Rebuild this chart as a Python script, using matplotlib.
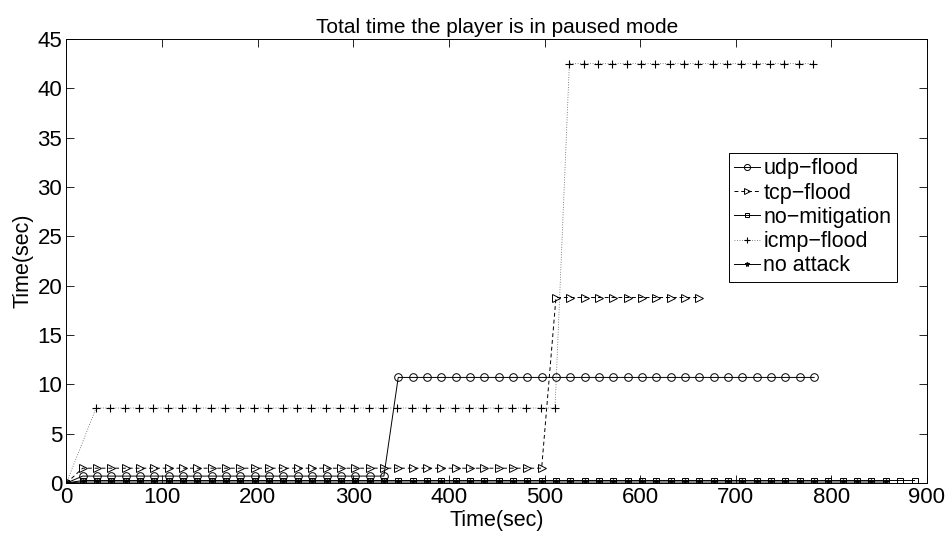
import matplotlib
matplotlib.use("Agg")
import matplotlib.pyplot as plt

plt.rcParams['font.family'] = ['Liberation Sans', 'DejaVu Sans']

# sampling times (sec)
sample_t = [0, 17, 32, 47, 62, 77, 92, 107, 122, 137, 152, 167, 182, 197, 212, 227,
            242, 257, 272, 287, 302, 317, 332, 347, 362, 377, 392, 407, 422, 437,
            452, 467, 482, 497, 512, 527, 542, 557, 572, 587, 602, 617, 632, 647,
            662, 677, 692, 707, 722, 737, 752, 767, 782, 797, 812, 827, 842, 857,
            872, 887]
icmp_t = [0, 31, 46, 61, 76, 91, 106, 121, 136, 151, 166, 181, 196, 211, 226, 241,
          256, 271, 286, 301, 316, 331, 346, 361, 376, 391, 406, 421, 436, 451, 466,
          481, 496, 511, 526, 541, 556, 571, 586, 601, 616, 631, 646, 661, 676, 691,
          706, 721, 736, 751, 766, 781]

udp_v = [0,
         0.7, 0.7, 0.7, 0.7, 0.7, 0.7, 0.7, 0.7, 0.7, 0.7, 0.7,
         0.7, 0.7, 0.7, 0.7, 0.7, 0.7, 0.7, 0.7, 0.7, 0.7, 0.7,
         10.7, 10.7, 10.7, 10.7, 10.7, 10.7, 10.7, 10.7, 10.7, 10.7,
         10.7, 10.7, 10.7, 10.7, 10.7, 10.7, 10.7, 10.7, 10.7, 10.7,
         10.7, 10.7, 10.7, 10.7, 10.7, 10.7, 10.7, 10.7, 10.7, 10.7]
tcp_v = [0,
         1.5, 1.5, 1.5, 1.5, 1.5, 1.5, 1.5, 1.5, 1.5, 1.5, 1.5,
         1.5, 1.5, 1.5, 1.5, 1.5, 1.5, 1.5, 1.5, 1.5, 1.5, 1.5,
         1.5, 1.5, 1.5, 1.5, 1.5, 1.5, 1.5, 1.5, 1.5, 1.5, 1.5,
         18.8, 18.8, 18.8, 18.8, 18.8, 18.8, 18.8, 18.8, 18.8, 18.8, 18.8]
nomit_v = [0,
           0.25, 0.25, 0.25, 0.25, 0.25, 0.25, 0.25, 0.25, 0.25, 0.25,
           0.25, 0.25, 0.25, 0.25, 0.25, 0.25, 0.25, 0.25, 0.25, 0.25,
           0.25, 0.25, 0.25, 0.25, 0.25, 0.25, 0.25, 0.25, 0.25, 0.25,
           0.25, 0.25, 0.25, 0.25, 0.25, 0.25, 0.25, 0.25, 0.25, 0.25,
           0.25, 0.25, 0.25, 0.25, 0.25, 0.25, 0.25, 0.25, 0.25, 0.25,
           0.25, 0.25, 0.25, 0.25, 0.25, 0.25, 0.25, 0.25, 0.25]
noatt_v = [0,
           0.1, 0.1, 0.1, 0.1, 0.1, 0.1, 0.1, 0.1, 0.1, 0.1,
           0.1, 0.1, 0.1, 0.1, 0.1, 0.1, 0.1, 0.1, 0.1, 0.1,
           0.1, 0.1, 0.1, 0.1, 0.1, 0.1, 0.1, 0.1, 0.1, 0.1,
           0.1, 0.1, 0.1, 0.1, 0.1, 0.1, 0.1, 0.1, 0.1, 0.1,
           0.1, 0.1, 0.1, 0.1, 0.1, 0.1, 0.1, 0.1, 0.1, 0.1,
           0.1, 0.1, 0.1, 0.1, 0.1, 0.1, 0.1]
icmp_v = [0,
          7.6, 7.6, 7.6, 7.6, 7.6, 7.6, 7.6, 7.6, 7.6, 7.6, 7.6,
          7.6, 7.6, 7.6, 7.6, 7.6, 7.6, 7.6, 7.6, 7.6, 7.6, 7.6,
          7.6, 7.6, 7.6, 7.6, 7.6, 7.6, 7.6, 7.6, 7.6, 7.6, 7.6,
          42.5, 42.5, 42.5, 42.5, 42.5, 42.5, 42.5, 42.5, 42.5,
          42.5, 42.5, 42.5, 42.5, 42.5, 42.5, 42.5, 42.5, 42.5]

labels = ['udp\u2212flood', 'tcp\u2212flood', 'no\u2212mitigation', 'icmp\u2212flood', 'no attack']
x_ticks = [0, 100, 200, 300, 400, 500, 600, 700, 800, 900]
y_ticks = [0, 5, 10, 15, 20, 25, 30, 35, 40, 45]

fig = plt.figure(figsize=(9.48, 5.43), dpi=100)
ax = fig.add_axes([0.0701, 0.1105, 0.9077, 0.8177])

lw = 0.7
ax.plot(sample_t[:len(udp_v)], udp_v, '-', color='k', lw=lw, marker='o', ms=5.5,
        mfc='none', mec='k', mew=0.7, label=labels[0])
ax.plot(sample_t[:len(tcp_v)], tcp_v, '--', color='k', lw=lw, marker='>', ms=5.5,
        mfc='none', mec='k', mew=0.7, dashes=(4, 3), label=labels[1])
ax.plot(sample_t[:len(nomit_v)], nomit_v, '-', color='k', lw=lw, marker='s', ms=4,
        mfc='none', mec='k', mew=0.7, label=labels[2])
ax.plot(icmp_t[:len(icmp_v)], icmp_v, ':', color='0.35', lw=0.6, marker='+', ms=6,
        mec='k', mew=0.8, dashes=(1, 2), label=labels[3])
ax.plot(sample_t[:len(noatt_v)], noatt_v, '-', color='k', lw=lw, marker='*', ms=4.5,
        mfc='k', mec='k', mew=0.7, label=labels[4])

ax.set_xlim(0, 900)
ax.set_ylim(0, 45)
ax.set_xticks(x_ticks)
ax.set_yticks(y_ticks)
ax.tick_params(direction='in', length=6, width=0.6, top=True, right=True,
               labelsize=16, pad=3)
for s in ax.spines.values():
    s.set_linewidth(0.7)

ax.set_title('Total time the player is in paused mode', fontsize=15, pad=4)
ax.set_xlabel('Time(sec)', fontsize=15.5, labelpad=1)
ax.set_ylabel('Time(sec)', fontsize=15.5, labelpad=3)

leg = ax.legend(loc='upper left', bbox_to_anchor=(729 / 948, 1 - 153 / 543),
                bbox_transform=fig.transFigure, borderaxespad=0, fontsize=15.5,
                frameon=True, fancybox=False, edgecolor='k', framealpha=1,
                handlelength=1.2, handletextpad=0.15, labelspacing=0.15,
                borderpad=0.25, markerscale=0.8)
leg.get_frame().set_linewidth(0.7)

fig.savefig('out.png', dpi=100)
